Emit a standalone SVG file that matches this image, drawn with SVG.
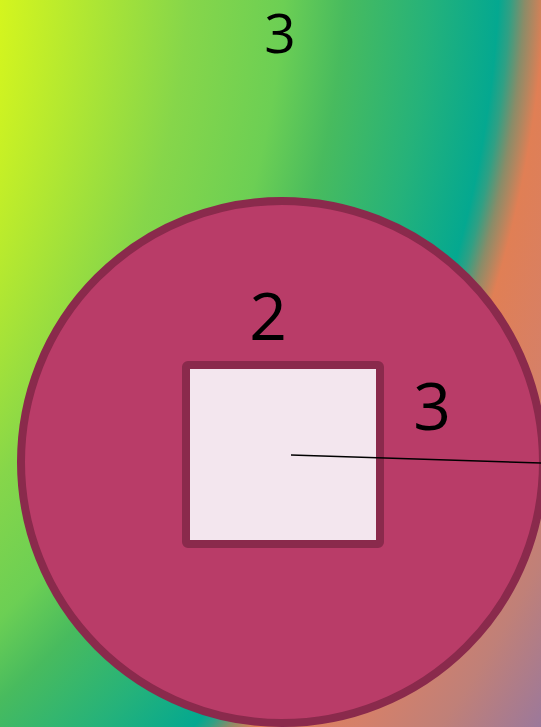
<svg xmlns="http://www.w3.org/2000/svg" width="541" height="727" viewBox="0 0 541 727">
  <defs>
    <radialGradient id="bg" gradientUnits="userSpaceOnUse" cx="-657" cy="-58" r="1450">
      <stop offset="0.455" stop-color="#d4f51e"/>
      <stop offset="0.585" stop-color="#86d64a"/>
      <stop offset="0.65" stop-color="#6ccf54"/>
      <stop offset="0.692" stop-color="#48bb5e"/>
      <stop offset="0.75" stop-color="#25b27a"/>
      <stop offset="0.798" stop-color="#04a890"/>
      <stop offset="0.806" stop-color="#30a084"/>
      <stop offset="0.816" stop-color="#8a8c68"/>
      <stop offset="0.83" stop-color="#e07f55"/>
      <stop offset="0.885" stop-color="#d4806a"/>
      <stop offset="0.93" stop-color="#c08078"/>
      <stop offset="0.99" stop-color="#9a789c"/>
    </radialGradient>
    <style>
      .lbl { font-family: "Open Sans", "Noto Sans", "DejaVu Sans", sans-serif; fill: #000; text-anchor: middle; }
      .shape { stroke: #8a2a4c; stroke-width: 8; }
    </style>
  </defs>
  <rect x="0" y="0" width="541" height="727" fill="url(#bg)"/>
  <g id="outer-label">
    <text class="lbl" x="280" y="53" font-size="55">3</text>
  </g>
  <g id="circle-node">
    <circle class="shape" cx="282" cy="462" r="261" fill="#b93c68"/>
    <text class="lbl" x="268" y="340" font-size="66">2</text>
    <text class="lbl" x="432" y="430" font-size="66">3</text>
  </g>
  <g id="square-node">
    <rect class="shape" x="186" y="365" width="194" height="179" rx="2" fill="#f3e6ee"/>
  </g>
  <g id="connectors">
    <line x1="291" y1="455" x2="541" y2="463" stroke="#000" stroke-width="1.6"/>
  </g>
</svg>
